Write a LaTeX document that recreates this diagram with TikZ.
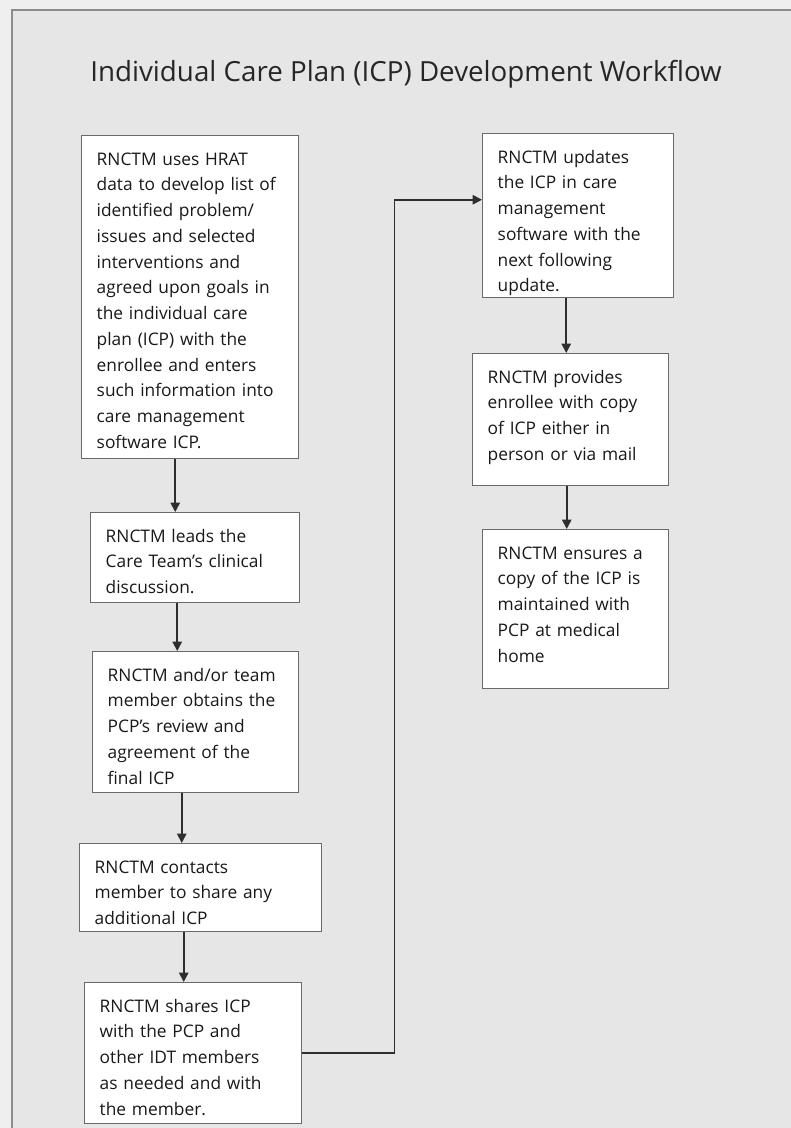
\documentclass[tikz,border=0pt]{standalone}
\usepackage{fontspec}
\setmainfont{Open Sans}
\usetikzlibrary{arrows.meta,calc}
\definecolor{panelgray}{HTML}{E6E6E6}
\definecolor{margingray}{HTML}{EFEFEF}
\definecolor{framegray}{HTML}{8C8C8C}
\definecolor{boxline}{HTML}{6A6A6A}
\definecolor{flowline}{HTML}{2E2E2E}

\begin{document}
\begin{tikzpicture}[x=0.75pt,y=-0.75pt,
    stepbox/.style={draw=boxline,fill=white,line width=1.1pt,anchor=north west,
      inner xsep=0pt,inner ysep=12.75pt,text height=9.3pt,
      font=\fontsize{13}{19.3}\selectfont,text=black!90,
      execute at begin node={\leftskip=11.25pt\rightskip=0pt plus 1fil}},
    flow/.style={draw=flowline,line width=1.3pt,-{Triangle[length=7pt,width=7pt]}}]
  \useasboundingbox (0,0) rectangle (791,1128);
  \fill[margingray] (0,0) rectangle (791,1128);
  \fill[panelgray] (12,10) rectangle (791,1128);
  \draw[framegray,line width=1.5pt] (12,1128) -- (12,10) -- (791,10);

  \node[anchor=base,font=\fontsize{20.8}{25}\selectfont,text=black!85] (title) at (406,81)
    {Individual Care Plan (ICP) Development Workflow};

  % left column
  \node[stepbox,text width=162.75pt,text depth=207.45pt] (hrat) at (81,135)
    {RNCTM uses HRAT\\ data to develop list of\\ identified problem/\\ issues and selected\\
     interventions and\\ agreed upon goals in\\ the individual care\\ plan (ICP) with the\\
     enrollee and enters\\ such information into\\ care management\\ software ICP.};
  \node[stepbox,text width=156.75pt,text depth=32.7pt] (leads) at (90,512)
    {RNCTM leads the\\ Care Team’s clinical\\ discussion.};
  \node[stepbox,text width=154.5pt,text depth=70.95pt] (review) at (92,651)
    {RNCTM and/or team\\ member obtains the\\ PCP’s review and\\ agreement of the\\ final ICP};
  \node[stepbox,text width=181.5pt,text depth=31.2pt] (contacts) at (79,843)
    {RNCTM contacts\\ member to share any\\ additional ICP};
  \node[stepbox,text width=162.75pt,text depth=70.95pt] (shares) at (84,982)
    {RNCTM shares ICP\\ with the PCP and\\ other IDT members\\ as needed and with\\ the member.};

  % right column
  \node[stepbox,text width=143.25pt,text depth=88.2pt] (updates) at (482,133)
    {RNCTM updates\\ the ICP in care\\ management\\ software with the\\ next following\\ update.};
  \node[stepbox,text width=147pt,text depth=64.2pt] (provides) at (472,353)
    {RNCTM provides\\ enrollee with copy\\ of ICP either in\\ person or via mail};
  \node[stepbox,text width=139.5pt,text depth=84.45pt] (ensures) at (482,529)
    {RNCTM ensures a\\ copy of the ICP is\\ maintained with\\ PCP at medical\\ home};

  \draw[flow] ([xshift=-11.25pt]hrat.south) -- ([xshift=-11.25pt]hrat.south |- leads.north);
  \draw[flow] ([xshift=-13.5pt]leads.south) -- ([xshift=-13.5pt]leads.south |- review.north);
  \draw[flow] ([xshift=-10.5pt]review.south) -- ([xshift=-10.5pt]review.south |- contacts.north);
  \draw[flow] ([xshift=-12.75pt]contacts.south) -- ([xshift=-12.75pt]contacts.south |- shares.north);
  \draw[flow] (shares.east) -- ++(92,0) |- ($(updates.west)+(0,-16)$);
  \draw[flow] ([xshift=-9pt]updates.south) -- ([xshift=-9pt]updates.south |- provides.north);
  \draw[flow] ([xshift=-3pt]provides.south) -- ([xshift=-3pt]provides.south |- ensures.north);
\end{tikzpicture}
\end{document}
